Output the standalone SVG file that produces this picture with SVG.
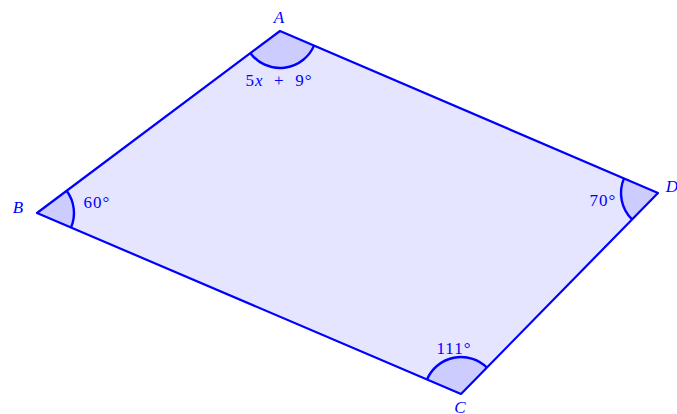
<svg xmlns="http://www.w3.org/2000/svg" width="677" height="414" viewBox="0 0 677 414">
<style>
.edge{fill:none;stroke:#0000ff;stroke-width:2.2;stroke-linejoin:round}
.poly{fill:#e5e5ff;stroke:none}
.ang{fill:#ccccff;stroke:none}
.arc{fill:none;stroke:#0000ff;stroke-width:2.4}
.lbl{font-family:"Liberation Serif",serif;font-style:italic;font-size:17px;fill:#0000ff;text-anchor:middle}
.num{font-family:"Liberation Serif",serif;font-size:17px;fill:#0000ff;text-anchor:middle;letter-spacing:1px}
</style>
<rect width="677" height="414" fill="#ffffff"/>
<polygon class="poly" points="280,31 37,213 461,394 658,193"/>
<g id="angles">
<path class="ang" d="M280 31 L250.4 53.2 A37 37 0 0 0 314 45.6 Z"/>
<path class="arc" d="M250.4 53.2 A37 37 0 0 0 314 45.6"/>
<path class="ang" d="M37 213 L66.6 190.8 A37 37 0 0 1 71 227.5 Z"/>
<path class="arc" d="M66.6 190.8 A37 37 0 0 1 71 227.5"/>
<path class="ang" d="M461 394 L427 379.5 A37 37 0 0 1 486.9 367.6 Z"/>
<path class="arc" d="M427 379.5 A37 37 0 0 1 486.9 367.6"/>
<path class="ang" d="M658 193 L624 178.4 A37 37 0 0 0 632.1 219.4 Z"/>
<path class="arc" d="M624 178.4 A37 37 0 0 0 632.1 219.4"/>
</g>
<g id="connectors">
<polygon class="edge" points="280,31 37,213 461,394 658,193"/>
</g>
<g id="A"><text class="lbl" x="279" y="23">A</text><text class="num" x="279" y="86" xml:space="preserve">5<tspan font-style="italic">x</tspan>  +  9°</text></g>
<g id="B"><text class="lbl" x="18" y="213">B</text><text class="num" x="97" y="208">60°</text></g>
<g id="C"><text class="lbl" x="460" y="413">C</text><text class="num" x="454" y="354">111°</text></g>
<g id="D"><text class="lbl" x="672" y="192">D</text><text class="num" x="603" y="206">70°</text></g>
</svg>
